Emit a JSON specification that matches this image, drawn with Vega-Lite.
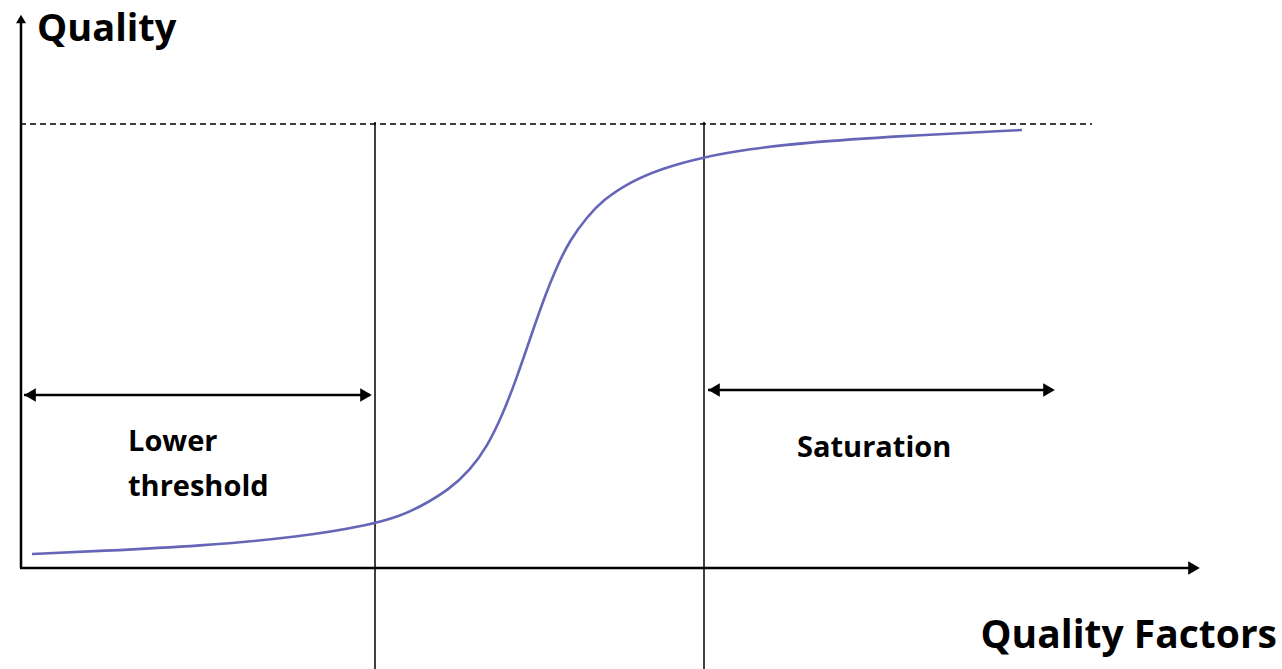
{
  "$schema": "https://vega.github.io/schema/vega-lite/v6.json",
  "width": 1282,
  "height": 669,
  "autosize": {"type": "none"},
  "padding": 0,
  "background": "white",
  "config": {"view": {"stroke": null}},
  "datasets": {
    "curve": [
      {"x": 32, "y": 115}, {"x": 100, "y": 118}, {"x": 200, "y": 123}, {"x": 300, "y": 132},
      {"x": 370, "y": 144}, {"x": 400, "y": 153}, {"x": 420, "y": 162}, {"x": 450, "y": 180}, {"x": 470, "y": 199},
      {"x": 487, "y": 222}, {"x": 503, "y": 255}, {"x": 517, "y": 292}, {"x": 530, "y": 330},
      {"x": 543, "y": 368}, {"x": 557, "y": 403}, {"x": 570, "y": 429}, {"x": 587, "y": 452},
      {"x": 603, "y": 469}, {"x": 630, "y": 487}, {"x": 660, "y": 500}, {"x": 703, "y": 512},
      {"x": 750, "y": 520}, {"x": 800, "y": 526}, {"x": 900, "y": 533}, {"x": 1022, "y": 539}
    ],
    "solid": [
      {"x": 21, "y": 101, "x2": 21, "y2": 648, "w": 2.5},
      {"x": 20, "y": 101, "x2": 1190, "y2": 101, "w": 2.5},
      {"x": 375, "y": 0, "x2": 375, "y2": 547, "w": 1.5},
      {"x": 704, "y": 0, "x2": 704, "y2": 547, "w": 1.5},
      {"x": 24, "y": 274, "x2": 370, "y2": 274, "w": 2.5},
      {"x": 708, "y": 279, "x2": 1052, "y2": 279, "w": 2.5}
    ],
    "dashed": [
      {"x": 20, "y": 545, "x2": 1092, "y2": 545}
    ],
    "arrows": [
      {"x": 21, "y": 650, "shape": "triangle-up", "s": 100},
      {"x": 1194, "y": 101, "shape": "triangle-right", "s": 180},
      {"x": 30, "y": 274, "shape": "triangle-left", "s": 180},
      {"x": 366, "y": 274, "shape": "triangle-right", "s": 180},
      {"x": 714, "y": 279, "shape": "triangle-left", "s": 180},
      {"x": 1049, "y": 279, "shape": "triangle-right", "s": 180}
    ],
    "leftLabels": [
      {"x": 37, "y": 639, "text": "Quality", "size": 38},
      {"x": 128, "y": 227, "text": "Lower", "size": 29},
      {"x": 128, "y": 182, "text": "threshold", "size": 29},
      {"x": 797, "y": 221, "text": "Saturation", "size": 29}
    ],
    "rightLabels": [
      {"x": 1277, "y": 33, "text": "Quality Factors", "size": 39}
    ]
  },
  "layer": [
    {
      "data": {"name": "dashed"},
      "mark": {"type": "rule", "color": "black", "strokeWidth": 1.5, "strokeDash": [6, 4]},
      "encoding": {
        "x": {"field": "x", "type": "quantitative", "scale": {"domain": [0, 1282], "nice": false, "zero": false}, "axis": null},
        "y": {"field": "y", "type": "quantitative", "scale": {"domain": [0, 669], "nice": false, "zero": false}, "axis": null},
        "x2": {"field": "x2"},
        "y2": {"field": "y2"}
      }
    },
    {
      "data": {"name": "solid"},
      "mark": {"type": "rule", "color": "black"},
      "encoding": {
        "x": {"field": "x", "type": "quantitative"},
        "y": {"field": "y", "type": "quantitative"},
        "x2": {"field": "x2"},
        "y2": {"field": "y2"},
        "strokeWidth": {"field": "w", "type": "quantitative", "scale": null}
      }
    },
    {
      "data": {"name": "curve"},
      "mark": {"type": "line", "color": "#6666b8", "strokeWidth": 2.6, "interpolate": "basis"},
      "encoding": {
        "x": {"field": "x", "type": "quantitative"},
        "y": {"field": "y", "type": "quantitative"}
      }
    },
    {
      "data": {"name": "arrows"},
      "mark": {"type": "point", "filled": true, "color": "black", "opacity": 1, "strokeWidth": 0},
      "encoding": {
        "x": {"field": "x", "type": "quantitative"},
        "y": {"field": "y", "type": "quantitative"},
        "shape": {"field": "shape", "type": "nominal", "scale": null},
        "size": {"field": "s", "type": "quantitative", "scale": null}
      }
    },
    {
      "data": {"name": "leftLabels"},
      "mark": {"type": "text", "font": "Open Sans", "fontWeight": "bold", "baseline": "middle", "align": "left", "color": "black"},
      "encoding": {
        "x": {"field": "x", "type": "quantitative"},
        "y": {"field": "y", "type": "quantitative"},
        "text": {"field": "text"},
        "size": {"field": "size", "type": "quantitative", "scale": null}
      }
    },
    {
      "data": {"name": "rightLabels"},
      "mark": {"type": "text", "font": "Open Sans", "fontWeight": "bold", "baseline": "middle", "align": "right", "color": "black"},
      "encoding": {
        "x": {"field": "x", "type": "quantitative"},
        "y": {"field": "y", "type": "quantitative"},
        "text": {"field": "text"},
        "size": {"field": "size", "type": "quantitative", "scale": null}
      }
    }
  ]
}
